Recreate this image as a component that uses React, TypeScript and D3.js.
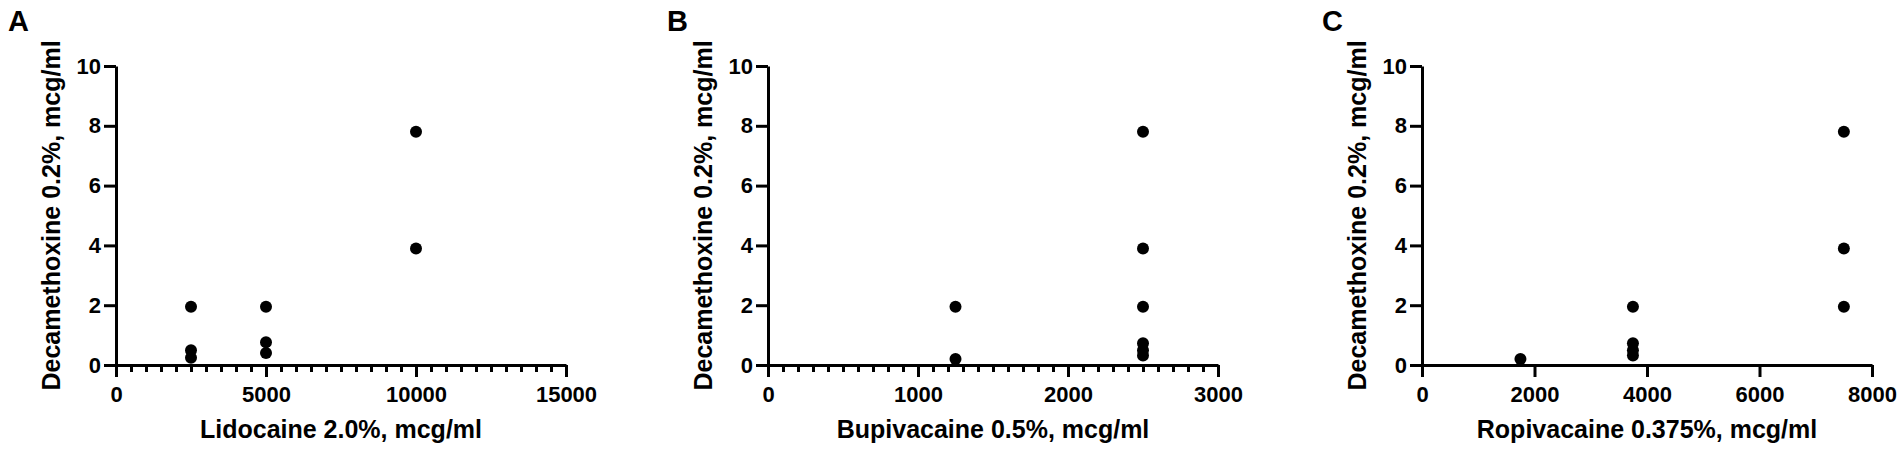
import React, { useEffect, useRef } from 'react';
import * as d3 from 'd3';

// panel texts
const panelLetters = ['A', 'B', 'C'];
const xTitles = ['Lidocaine 2.0%, mcg/ml', 'Bupivacaine 0.5%, mcg/ml', 'Ropivacaine 0.375%, mcg/ml'];
const yTitle = 'Decamethoxine 0.2%, mcg/ml';

// axes
const xMax = [15000, 3000, 8000];
const xMajorStep = [5000, 1000, 2000];
const xMinorStep = [500, 100, 0]; // 0 = no minor ticks
const yTicks = [0, 2, 4, 6, 8, 10];

// data
const lidocaineX = [2500, 2500, 2500, 5000, 5000, 5000, 10000, 10000];
const lidocaineY = [1.95, 0.49, 0.24, 1.95, 0.76, 0.4, 7.8, 3.9];
const bupivacaineX = [1250, 1250, 2500, 2500, 2500, 2500, 2500, 2500];
const bupivacaineY = [1.95, 0.2, 7.8, 3.9, 1.95, 0.73, 0.49, 0.32];
const ropivacaineX = [1750, 3750, 3750, 3750, 3750, 7500, 7500, 7500];
const ropivacaineY = [0.2, 1.95, 0.73, 0.49, 0.32, 7.8, 3.9, 1.95];

const seriesX = [lidocaineX, bupivacaineX, ropivacaineX];
const seriesY = [lidocaineY, bupivacaineY, ropivacaineY];

// layout
const W = 1902, H = 452;
const plotW = 450;
const top = 66, bottom = 365;
const lefts = [116, 768, 1422];
const letterXs = [8, 667, 1322];
const FONT = '"Liberation Sans", Arial, Helvetica, sans-serif';

function draw(el: SVGSVGElement) {
  const svg = d3.select(el);
  svg.selectAll('*').remove();

  const y = d3.scaleLinear().domain([0, 10]).range([bottom, top]);

  lefts.forEach((left, i) => {
    const x = d3.scaleLinear().domain([0, xMax[i]]).range([left, left + plotW]);
    const g = svg.append('g');

    // minor x ticks
    if (xMinorStep[i] > 0) {
      const minor = d3.range(0, xMax[i] + 1, xMinorStep[i]).filter(v => v % xMajorStep[i] !== 0);
      const gm = g.append('g')
        .attr('transform', `translate(0,${bottom})`)
        .call(d3.axisBottom(x).tickValues(minor).tickSize(7).tickFormat(() => ''));
      gm.select('.domain').remove();
      gm.selectAll('line').attr('stroke', '#000').attr('stroke-width', 3);
    }

    // major x axis
    const gx = g.append('g')
      .attr('transform', `translate(0,${bottom})`)
      .call(d3.axisBottom(x)
        .tickValues(d3.range(0, xMax[i] + 1, xMajorStep[i]))
        .tickSize(12).tickSizeOuter(0).tickPadding(9)
        .tickFormat(d3.format('d')));
    gx.select('.domain').attr('stroke', '#000').attr('stroke-width', 3);
    gx.selectAll('line').attr('stroke', '#000').attr('stroke-width', 3);
    gx.selectAll('text')
      .attr('fill', '#000')
      .style('font-family', FONT).style('font-weight', 'bold').style('font-size', '22px');

    // y axis
    const gy = g.append('g')
      .attr('transform', `translate(${left},0)`)
      .call(d3.axisLeft(y).tickValues(yTicks).tickSize(12).tickSizeOuter(0).tickPadding(3));
    gy.select('.domain').attr('stroke', '#000').attr('stroke-width', 3);
    gy.selectAll('line').attr('stroke', '#000').attr('stroke-width', 3);
    gy.selectAll('text')
      .attr('fill', '#000')
      .style('font-family', FONT).style('font-weight', 'bold').style('font-size', '22px');

    // points
    g.append('g')
      .selectAll('circle')
      .data(d3.range(seriesX[i].length))
      .join('circle')
      .attr('cx', k => x(seriesX[i][k]))
      .attr('cy', k => y(seriesY[i][k]))
      .attr('r', 6)
      .attr('fill', '#000');

    // titles
    g.append('text')
      .attr('x', left + plotW / 2)
      .attr('y', 438)
      .attr('text-anchor', 'middle')
      .style('font-family', FONT).style('font-weight', 'bold').style('font-size', '25px')
      .text(xTitles[i]);

    g.append('text')
      .attr('transform', `translate(${left - 56},${(top + bottom) / 2}) rotate(-90)`)
      .attr('text-anchor', 'middle')
      .style('font-family', FONT).style('font-weight', 'bold').style('font-size', '25px')
      .text(yTitle);

    g.append('text')
      .attr('x', letterXs[i])
      .attr('y', 31)
      .style('font-family', FONT).style('font-weight', 'bold').style('font-size', '29px')
      .text(panelLetters[i]);
  });
}

export default function App() {
  const ref = useRef<SVGSVGElement>(null);
  useEffect(() => {
    if (ref.current) draw(ref.current);
  }, []);
  return (
    <svg
      ref={ref}
      width={W}
      height={H}
      style={{ position: 'absolute', left: 0, top: 0, background: '#fff' }}
    />
  );
}
